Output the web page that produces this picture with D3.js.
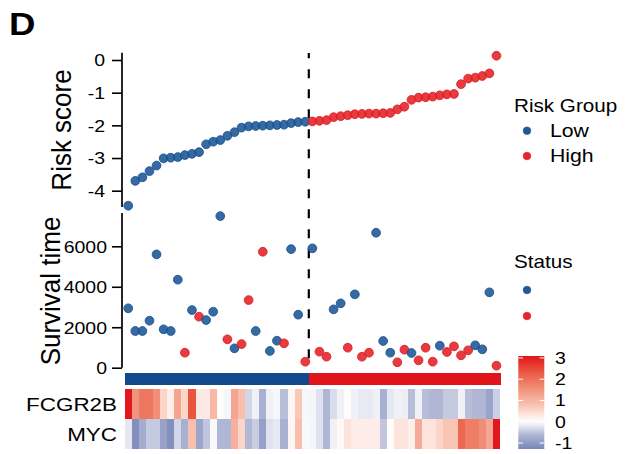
<!DOCTYPE html>
<html>
<head>
<meta charset="utf-8">
<script src="https://cdn.jsdelivr.net/npm/d3@7"></script>
<style>
  body { margin: 0; background: #fff; }
  svg { display: block; }
  text { font-family: "Liberation Sans", Arial, Helvetica, sans-serif; fill: #000; }
</style>
</head>
<body>
<svg id="chart" width="637" height="454"></svg>
<script>
// Per-sample values, ordered by ascending risk score
const riskScore = [
  -4.46, -3.70, -3.59, -3.40, -3.23, -3.01, -2.99, -2.97, -2.91, -2.87,
  -2.82, -2.58, -2.50, -2.45, -2.32, -2.21, -2.07, -2.03, -2.02, -2.01,
  -2.00, -1.99, -1.98, -1.93, -1.90, -1.89,
  -1.88, -1.86, -1.84, -1.75, -1.72, -1.69, -1.66, -1.65, -1.64, -1.64,
  -1.63, -1.62, -1.51, -1.43, -1.22, -1.15, -1.14, -1.12, -1.08, -1.05,
  -1.04, -0.74, -0.57, -0.54, -0.49, -0.41, 0.13
];
const survivalTime = [
  2935, 1813, 1813, 2322, 5600, 1897, 1813, 4350, 741, 2850,
  2520, 2356, 2766, 7494, 1403, 958, 1170, 3344, 1813, 5730,
  825, 1334, 1205, 5860, 2620, 296,
  5900, 790, 543, 2885, 3181, 988, 3626, 543, 741, 6670,
  1319, 741, 267, 889, 726, 366, 988, 296, 1087, 776,
  1057, 612, 860, 1107, 909, 3725, 99
];
// 0 = alive, 1 = dead
const status = [
  0, 0, 0, 0, 0, 0, 0, 0, 1, 0,
  1, 0, 0, 0, 1, 0, 1, 1, 0, 1,
  0, 0, 1, 0, 0, 1,
  0, 1, 1, 0, 0, 1, 0, 1, 1, 0,
  0, 0, 1, 1, 0, 1, 1, 1, 0, 1,
  1, 1, 1, 0, 0, 0, 1
];
const fcgr2b = [
  3.05, 1.50, 1.90, 1.90, 1.55, 0.55, 0.20, 1.25, 0.55, 2.35,
  0.28, 0.28, 0.95, 0.03, -0.08, 1.25, 0.85, -0.35, -0.12, -0.70,
  -0.12, -0.06, -0.55, 0.12, 0.72, -0.06,
  -0.08, -0.25, -0.62, -0.30, -0.12, 0.03, -0.12, -0.18, -0.18, -0.12,
  -0.70, -0.20, -0.12, -0.14, -0.55, -0.12, -0.55, -0.62, -0.62, -0.45,
  -0.45, -0.12, -0.55, -0.62, -0.62, -0.88, -0.40
];
const myc = [
  -0.20, -1.15, -0.75, -0.45, -0.45, -0.90, -1.15, -0.35, -0.70, 0.85,
  -0.85, -0.48, -0.05, -0.62, -0.62, 1.05, 0.55, -0.62, -0.42, -0.92,
  -0.25, -0.18, -0.70, 0.12, 0.85, -0.05,
  -0.08, -0.25, -0.62, -0.12, 0.08, 0.35, 0.24, 0.24, 0.24, 0.24,
  -0.48, 0.03, 0.35, 0.35, 0.20, 1.15, 0.35, 0.35, 0.55, 0.78,
  0.78, 2.10, 1.80, 1.80, 1.60, 1.20, 3.05
];
const genes = ["FCGR2B", "MYC"];
const riskCutoff = -1.885;
const riskGroups = ["Low", "High"];
const riskTicks = [0, -1, -2, -3, -4];
const survivalTicks = [0, 2000, 4000, 6000];
const heatTicks = [3, 2, 1, 0, -1];

// Styling
const XS = 1.18;               // horizontal stretch of the lettering
const BLUE = "#1f5a98", BLUE_EDGE = "#184f8b", BAR_BLUE = "#144a8b";
const RED = "#e6262a", RED_EDGE = "#d81c20", BAR_RED = "#e0151b";
const groupOf = v => v > riskCutoff ? "High" : "Low";

const svg = d3.select("#chart");
const n = riskScore.length;

// Scales
const x = d3.scaleBand().domain(d3.range(n)).range([124.7, 500]).padding(0);
const cx = i => x(i) + x.bandwidth() / 2;
const yRisk = d3.scaleLinear().domain([-4, 0]).range([190.7, 60]);
const ySurv = d3.scaleLinear().domain([0, 6000]).range([367.7, 246.3]);
const yGene = d3.scaleBand().domain(genes).range([389.3, 449]);
const heatColor = d3.scaleLinear()
  .domain([-1.28, -0.6, 0, 0.7, 1.5, 2.3, 3.09])
  .range(["#7886b8", "#b1b8d6", "#ffffff", "#f9c9b9", "#f2937c", "#ea5a43", "#e0141b"])
  .clamp(true);
const groupColor = g => g === "Low" ? BLUE : RED;
const groupEdge = g => g === "Low" ? BLUE_EDGE : RED_EDGE;
const statusFill = s => s === 0 ? BLUE : RED;
const statusEdge = s => s === 0 ? BLUE_EDGE : RED_EDGE;

const axisX = 122;

function styleAxis(g, offset, size) {
  g.select(".domain").remove();
  g.selectAll(".tick line").attr("stroke", "#000").attr("stroke-width", 1.6);
  g.selectAll(".tick text")
    .attr("x", null)
    .attr("dy", "0.36em")
    .attr("transform", `translate(${-offset},0) scale(${XS},1)`)
    .style("font-size", size + "px")
    .style("font-family", "'Liberation Sans', Arial, sans-serif")
    .attr("fill", "#000");
}

// Risk score axis
const gRiskAxis = svg.append("g").attr("transform", `translate(${axisX},0)`)
  .call(d3.axisLeft(yRisk).tickValues(riskTicks).tickSize(10).tickPadding(0).tickFormat(d => String(d)));
styleAxis(gRiskAxis, 17, 16.5);
svg.append("line")
  .attr("x1", axisX).attr("x2", axisX)
  .attr("y1", yRisk(0.22)).attr("y2", yRisk(-4.5))
  .attr("stroke", "#000").attr("stroke-width", 1.7);

// Survival axis
const gSurvAxis = svg.append("g").attr("transform", `translate(${axisX},0)`)
  .call(d3.axisLeft(ySurv).tickValues(survivalTicks).tickSize(10).tickPadding(0).tickFormat(d => String(d)));
styleAxis(gSurvAxis, 15, 16.5);
svg.append("line")
  .attr("x1", axisX).attr("x2", axisX)
  .attr("y1", ySurv(7650)).attr("y2", ySurv(0))
  .attr("stroke", "#000").attr("stroke-width", 1.7);

// Text helper: lettering is widened horizontally
function stretchedText(txt, px, py, size, opts = {}) {
  const t = svg.append("text")
    .attr("transform", `translate(${px},${py}) scale(${opts.sx || XS},1)${opts.rotate ? " rotate(-90)" : ""}`)
    .attr("text-anchor", opts.anchor || "start")
    .style("font-size", size + "px")
    .text(txt);
  if (opts.bold) t.style("font-weight", "bold");
  if (opts.dy) t.attr("dy", opts.dy);
  return t;
}
stretchedText("Risk score", 71, 130, 26, { rotate: true, anchor: "middle", sx: 1.05 });
stretchedText("Survival time", 60, 291, 26, { rotate: true, anchor: "middle", sx: 1.05 });
stretchedText("D", 9, 35, 31, { bold: true });

// Cutoff between risk groups
const firstHigh = riskScore.findIndex(v => groupOf(v) === "High");
svg.append("line")
  .attr("x1", x(firstHigh)).attr("x2", x(firstHigh))
  .attr("y1", 53).attr("y2", 368)
  .attr("stroke", "#000").attr("stroke-width", 2.2)
  .attr("stroke-dasharray", "9,11").attr("stroke-dashoffset", 3.7);

// Risk score points
svg.append("g").selectAll("circle").data(riskScore).join("circle")
  .attr("cx", (d, i) => cx(i)).attr("cy", d => yRisk(d)).attr("r", 4.4)
  .attr("fill", d => groupColor(groupOf(d)))
  .attr("stroke", d => groupEdge(groupOf(d)))
  .attr("stroke-width", 0.8).attr("fill-opacity", 0.9);

// Survival points coloured by status
svg.append("g").selectAll("circle").data(survivalTime).join("circle")
  .attr("cx", (d, i) => cx(i)).attr("cy", d => ySurv(d)).attr("r", 4.4)
  .attr("fill", (d, i) => statusFill(status[i]))
  .attr("stroke", (d, i) => statusEdge(status[i]))
  .attr("stroke-width", 0.8).attr("fill-opacity", 0.9);

// Risk group annotation bar
svg.append("g").attr("shape-rendering", "crispEdges")
  .selectAll("rect").data(riskScore).join("rect")
  .attr("x", (d, i) => x(i)).attr("width", x.bandwidth() + 1)
  .attr("y", 373.3).attr("height", 12)
  .attr("fill", d => groupOf(d) === "Low" ? BAR_BLUE : BAR_RED);

// Expression heatmap
const rows = [fcgr2b, myc];
genes.forEach((g, gi) => {
  svg.append("g").attr("shape-rendering", "crispEdges")
    .selectAll("rect").data(rows[gi]).join("rect")
    .attr("x", (d, i) => x(i)).attr("width", (d, i) => x.bandwidth() + (i < n - 1 ? 1 : 0))
    .attr("y", yGene(g)).attr("height", yGene.bandwidth() + (gi === 0 ? 1 : 0))
    .attr("fill", d => heatColor(d));
  stretchedText(g, 117, yGene(g) + yGene.bandwidth() / 2, 19, { anchor: "end", dy: "0.36em" });
});

// Legend: risk group
stretchedText("Risk Group", 514, 111.5, 17.5);
riskGroups.forEach((g, k) => {
  const ly = [130.7, 156][k];
  svg.append("circle").attr("cx", 527).attr("cy", ly).attr("r", 3.8)
    .attr("fill", groupColor(g)).attr("stroke", groupEdge(g)).attr("stroke-width", 0.6);
  stretchedText(g, 550, ly, 18, { dy: "0.36em" });
});

// Legend: status
stretchedText("Status", 514, 268.3, 17.5);
[0, 1].forEach((s, k) => {
  svg.append("circle").attr("cx", 527).attr("cy", [290, 316][k]).attr("r", 3.8)
    .attr("fill", statusFill(s)).attr("stroke", statusEdge(s)).attr("stroke-width", 0.6);
});

// Legend: expression colour bar
const yBar = d3.scaleLinear().domain([-1.28, 3.09]).range([449, 356]);
const defs = svg.append("defs");
const grad = defs.append("linearGradient").attr("id", "heatGrad")
  .attr("x1", 0).attr("y1", 1).attr("x2", 0).attr("y2", 0);
d3.range(0, 1.0001, 0.05).forEach(t => {
  const v = -1.28 + t * (3.09 + 1.28);
  grad.append("stop").attr("offset", t).attr("stop-color", heatColor(v));
});
svg.append("rect").attr("x", 518.3).attr("y", 356).attr("width", 26).attr("height", 93)
  .attr("fill", "url(#heatGrad)");
heatTicks.forEach(v => {
  const ty = yBar(v);
  svg.append("line").attr("x1", 518.3).attr("x2", 523).attr("y1", ty).attr("y2", ty)
    .attr("stroke", "#fff").attr("stroke-width", 1);
  svg.append("line").attr("x1", 539.6).attr("x2", 544.3).attr("y1", ty).attr("y2", ty)
    .attr("stroke", "#fff").attr("stroke-width", 1);
  stretchedText(String(v), 555, ty, 16.5, { dy: "0.36em" });
});
</script>
</body>
</html>
